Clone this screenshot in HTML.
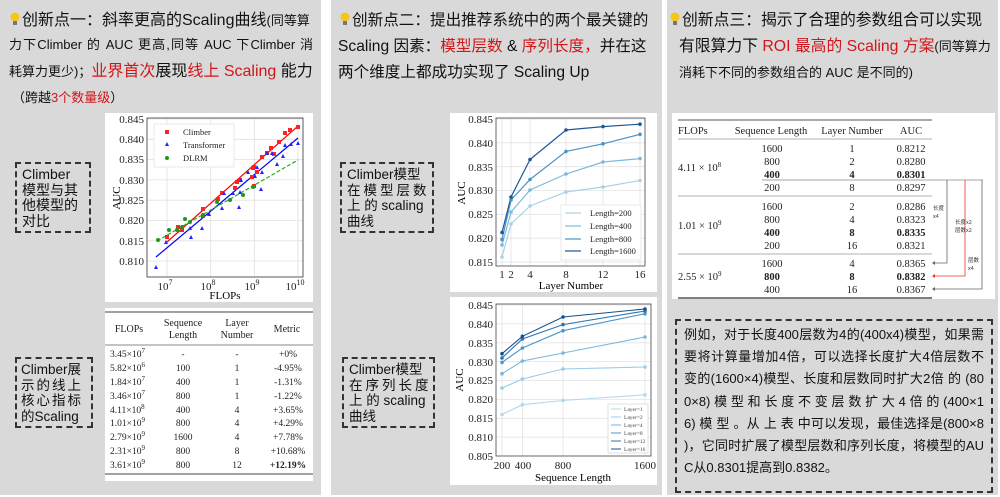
<!DOCTYPE html>
<html><head><meta charset="utf-8">
<style>
*{margin:0;padding:0;box-sizing:border-box}
body{width:1000px;height:497px;background:#fff;position:relative;overflow:hidden;font-family:"Liberation Sans","Noto Sans CJK SC",sans-serif;color:#111}
.p{position:absolute;background:#d9d9d9}
.a{position:absolute;white-space:nowrap}
.t{font-family:"Liberation Sans","Noto Sans CJK SC",sans-serif;line-height:1}
.r{color:#d0161b}
.s{font-size:13px}
.db{position:absolute;border:2px dashed #333;font-size:14px;line-height:15.6px;padding:3px 5px;font-family:"Liberation Sans","Noto Sans CJK SC",sans-serif;color:#111;white-space:nowrap}
.wb{position:absolute;background:#fff}
.bulb{display:inline-block;width:10px;height:14px;vertical-align:-1px;margin-right:2px}
.jl{text-align:justify;text-align-last:justify;height:22.2px;line-height:22.2px;white-space:nowrap}
</style></head><body>
<div class="p" style="left:0;top:0;width:321px;height:495px"></div>
<div class="p" style="left:331px;top:0;width:331px;height:495px"></div>
<div class="p" style="left:667px;top:0;width:331px;height:495px"></div>

<!-- Panel 1 title -->
<div class="a t" style="left:10px;top:12px;font-size:16px"><svg class="bulb" viewBox="0 0 10 14"><circle cx="5" cy="5" r="4.5" fill="#f5c518"/><rect x="3" y="9" width="4" height="4" fill="#777"/></svg>创新点一：斜率更高的Scaling曲线<span class="s">(同等算</span></div>
<div class="a t s" style="left:9px;top:38px;width:304px;text-align:justify;text-align-last:justify">力下Climber 的 AUC 更高,同等 AUC 下Climber 消</div>
<div class="a t" style="left:9px;top:64px;font-size:16px"><span class="s">耗算力更少)；</span><span class="r">业界首次</span>展现<span class="r">线上 Scaling</span> 能力</div>
<div class="a t s" style="left:12px;top:91px">（跨越<span class="r">3个数量级</span>）</div>

<!-- Chart 1 -->
<div class="wb" style="left:105px;top:113px;width:208px;height:189px"></div>
<svg class="a" style="left:0;top:0" width="330" height="310" font-family="Liberation Serif,serif">
<g stroke="#e0e0e0" stroke-width="0.8">
<line x1="147" x2="303" y1="119" y2="119"/><line x1="147" x2="303" y1="139.3" y2="139.3"/><line x1="147" x2="303" y1="159.6" y2="159.6"/><line x1="147" x2="303" y1="179.9" y2="179.9"/><line x1="147" x2="303" y1="200.2" y2="200.2"/><line x1="147" x2="303" y1="220.5" y2="220.5"/><line x1="147" x2="303" y1="240.8" y2="240.8"/><line x1="147" x2="303" y1="261" y2="261"/>
<line x1="167" x2="167" y1="118" y2="277"/><line x1="210.7" x2="210.7" y1="118" y2="277"/><line x1="254.4" x2="254.4" y1="118" y2="277"/><line x1="298" x2="298" y1="118" y2="277"/>
</g>
<rect x="147" y="118" width="156" height="159" fill="none" stroke="#333" stroke-width="0.8"/>
<g font-size="11" text-anchor="end" fill="#222"><text x="144" y="123">0.845</text><text x="144" y="143">0.840</text><text x="144" y="163">0.835</text><text x="144" y="184">0.830</text><text x="144" y="204">0.825</text><text x="144" y="224">0.820</text><text x="144" y="245">0.815</text><text x="144" y="265">0.810</text></g>
<g font-size="11" text-anchor="middle" fill="#222"><text x="165" y="290">10<tspan font-size="8" dy="-5">7</tspan></text><text x="208" y="290">10<tspan font-size="8" dy="-5">8</tspan></text><text x="252" y="290">10<tspan font-size="8" dy="-5">9</tspan></text><text x="295" y="290">10<tspan font-size="8" dy="-5">10</tspan></text></g>
<text x="225" y="299" font-size="11" text-anchor="middle">FLOPs</text>
<text transform="translate(120,198) rotate(-90)" font-size="11" text-anchor="middle">AUC</text>
<line x1="167" y1="242" x2="298" y2="126" stroke="#f00" stroke-width="1.2"/>
<line x1="156" y1="257" x2="298" y2="138" stroke="#00f" stroke-width="1.2"/>
<line x1="157" y1="241" x2="298" y2="160" stroke="#2a2" stroke-width="1.2" stroke-dasharray="4,2"/>
<g fill="#f22">
<rect x="165" y="235" width="4" height="4"/><rect x="176" y="225" width="4" height="4"/><rect x="180" y="228" width="4" height="4"/><rect x="201" y="207" width="4" height="4"/><rect x="201" y="214" width="4" height="4"/><rect x="216" y="197" width="4" height="4"/><rect x="220" y="191" width="4" height="4"/><rect x="233" y="186" width="4" height="4"/><rect x="235" y="180" width="4" height="4"/><rect x="238" y="178" width="4" height="4"/><rect x="250" y="175" width="4" height="4"/><rect x="251" y="166" width="4" height="4"/><rect x="252" y="165" width="4" height="4"/><rect x="255" y="170" width="4" height="4"/><rect x="252" y="184" width="4" height="4"/><rect x="260" y="155" width="4" height="4"/><rect x="265" y="151" width="4" height="4"/><rect x="269" y="146" width="4" height="4"/><rect x="272" y="152" width="4" height="4"/><rect x="277" y="140" width="4" height="4"/><rect x="283" y="131" width="4" height="4"/><rect x="288" y="128" width="4" height="4"/><rect x="296" y="125" width="4" height="4"/>
</g>
<g fill="#22f">
<path d="M156 265l2 4h-4z M166 240l2 4h-4z M190 226l2 4h-4z M191 235l2 4h-4z M202 226l2 4h-4z M209 212l2 4h-4z M222 206l2 4h-4z M224 191l2 4h-4z M233 191l2 4h-4z M239 205l2 4h-4z M240 190l2 4h-4z M241 178l2 4h-4z M248 170l2 4h-4z M255 174l2 4h-4z M257 165l2 4h-4z M261 187l2 4h-4z M262 170l2 4h-4z M267 151l2 4h-4z M272 151l2 4h-4z M277 162l2 4h-4z M283 154l2 4h-4z M285 143l2 4h-4z M291 142l2 4h-4z M298 141l2 4h-4z"/>
</g>
<g fill="#1a9a1a"><circle cx="158" cy="240" r="2"/><circle cx="169" cy="230" r="2"/><circle cx="177" cy="230" r="2"/><circle cx="182" cy="227" r="2"/><circle cx="185" cy="219" r="2"/><circle cx="190" cy="222" r="2"/><circle cx="203" cy="215" r="2"/><circle cx="217" cy="202" r="2"/><circle cx="230" cy="200" r="2"/><circle cx="243" cy="195" r="2"/><circle cx="253" cy="187" r="2"/></g>
<rect x="154" y="124" width="80" height="43" fill="#fff" stroke="#ddd" stroke-width="0.6"/>
<rect x="165" y="130" width="4" height="4" fill="#f22"/><path d="M167 142l2 4h-4z" fill="#22f"/><circle cx="167" cy="158" r="2" fill="#1a9a1a"/>
<g font-size="8.5" fill="#222"><text x="183" y="135">Climber</text><text x="183" y="148">Transformer</text><text x="183" y="161">DLRM</text></g>
</svg>
<div class="db" style="left:15px;top:162px;width:76px;height:71px">Climber<br>模型与其<br>他模型的<br>对比</div>

<!-- Table 1 -->
<div class="wb" style="left:105px;top:308px;width:208px;height:173px"></div>
<svg class="a" style="left:0;top:300px" width="330" height="190" font-family="Liberation Serif,serif" font-size="10" fill="#222">
<line x1="105" x2="313" y1="12" y2="12" stroke="#444" stroke-width="1"/>
<line x1="105" x2="313" y1="45" y2="45" stroke="#888" stroke-width="1"/>
<line x1="105" x2="313" y1="174" y2="174" stroke="#444" stroke-width="1"/>
<g text-anchor="middle">
<text x="129" y="32">FLOPs</text><text x="183" y="26">Sequence</text><text x="183" y="38">Length</text><text x="237" y="26">Layer</text><text x="237" y="38">Number</text><text x="287" y="32">Metric</text>
</g>
<g font-size="9.5">
<g text-anchor="start">
<text x="110" y="57">3.45×10<tspan font-size="7" dy="-4">7</tspan></text>
<text x="110" y="71">5.82×10<tspan font-size="7" dy="-4">6</tspan></text>
<text x="110" y="85">1.84×10<tspan font-size="7" dy="-4">7</tspan></text>
<text x="110" y="99">3.46×10<tspan font-size="7" dy="-4">7</tspan></text>
<text x="110" y="113">4.11×10<tspan font-size="7" dy="-4">8</tspan></text>
<text x="110" y="126">1.01×10<tspan font-size="7" dy="-4">9</tspan></text>
<text x="110" y="140">2.79×10<tspan font-size="7" dy="-4">9</tspan></text>
<text x="110" y="154">2.31×10<tspan font-size="7" dy="-4">9</tspan></text>
<text x="110" y="168">3.61×10<tspan font-size="7" dy="-4">9</tspan></text>
</g>
<g text-anchor="middle">
<text x="183" y="57">-</text><text x="183" y="71">100</text><text x="183" y="85">400</text><text x="183" y="99">800</text><text x="183" y="113">400</text><text x="183" y="126">800</text><text x="183" y="140">1600</text><text x="183" y="154">800</text><text x="183" y="168">800</text>
<text x="237" y="57">-</text><text x="237" y="71">1</text><text x="237" y="85">1</text><text x="237" y="99">1</text><text x="237" y="113">4</text><text x="237" y="126">4</text><text x="237" y="140">4</text><text x="237" y="154">8</text><text x="237" y="168">12</text>
<text x="288" y="57">+0%</text><text x="288" y="71">-4.95%</text><text x="288" y="85">-1.31%</text><text x="288" y="99">-1.22%</text><text x="288" y="113">+3.65%</text><text x="288" y="126">+4.29%</text><text x="288" y="140">+7.78%</text><text x="288" y="154">+10.68%</text><text x="288" y="168" font-weight="bold">+12.19%</text>
</g></g>
</svg>
<div class="db" style="left:15px;top:357px;width:78px;height:71px;font-size:13.5px;padding:3px 4px">Climber展<br><span style="letter-spacing:2px">示的线上</span><br><span style="letter-spacing:2px">核心指标</span><br>的Scaling</div>

<!-- Panel 2 title -->
<div class="a t" style="left:340px;top:12px;font-size:15.6px"><svg class="bulb" viewBox="0 0 10 14"><circle cx="5" cy="5" r="4.5" fill="#f5c518"/><rect x="3" y="9" width="4" height="4" fill="#777"/></svg>创新点二：提出推荐系统中的两个最关键的</div>
<div class="a t" style="left:338px;top:39px;font-size:15.6px">Scaling 因素：<span class="r">模型层数</span> &amp; <span class="r">序列长度，</span>并在这</div>
<div class="a t" style="left:338px;top:65px;font-size:15.6px">两个维度上都成功实现了 Scaling Up</div>

<!-- Chart A -->
<div class="wb" style="left:450px;top:113px;width:207px;height:179px"></div>
<svg class="a" style="left:0;top:0" width="665" height="300" font-family="Liberation Serif,serif">
<g stroke="#e3e3e3" stroke-width="0.8">
<line x1="496" x2="645" y1="119" y2="119"/><line x1="496" x2="645" y1="142.8" y2="142.8"/><line x1="496" x2="645" y1="166.7" y2="166.7"/><line x1="496" x2="645" y1="190.5" y2="190.5"/><line x1="496" x2="645" y1="214.3" y2="214.3"/><line x1="496" x2="645" y1="238.2" y2="238.2"/><line x1="496" x2="645" y1="262" y2="262"/>
<line x1="502" x2="502" y1="118" y2="266"/><line x1="511" x2="511" y1="118" y2="266"/><line x1="530" x2="530" y1="118" y2="266"/><line x1="566" x2="566" y1="118" y2="266"/><line x1="603" x2="603" y1="118" y2="266"/><line x1="640" x2="640" y1="118" y2="266"/>
</g>
<rect x="496" y="118" width="149" height="148" fill="none" stroke="#444" stroke-width="0.8"/>
<g font-size="11" text-anchor="end" fill="#222"><text x="493" y="123">0.845</text><text x="493" y="147">0.840</text><text x="493" y="171">0.835</text><text x="493" y="194">0.830</text><text x="493" y="218">0.825</text><text x="493" y="242">0.820</text><text x="493" y="266">0.815</text></g>
<g font-size="11" text-anchor="middle" fill="#222"><text x="502" y="278">1</text><text x="511" y="278">2</text><text x="530" y="278">4</text><text x="566" y="278">8</text><text x="603" y="278">12</text><text x="640" y="278">16</text></g>
<text x="571" y="289" font-size="11" text-anchor="middle">Layer Number</text>
<text transform="translate(465,193) rotate(-90)" font-size="11" text-anchor="middle">AUC</text>
<g fill="none" stroke-width="1.2">
<polyline stroke="#a9d2ea" points="502,257 511,224 530,206 566,192 603,187 640,180.5"/>
<polyline stroke="#7db9de" points="502,245 511,212 530,190 566,174 603,162 640,158.6"/>
<polyline stroke="#4b93c7" points="502,239.6 511,200 530,179.5 566,151.4 603,143.8 640,134.3"/>
<polyline stroke="#1e5796" points="502,232.5 511,197 530,159.5 566,130 603,126.6 640,124.2"/>
</g>
<g fill="#a9d2ea"><circle cx="502" cy="257" r="1.8"/><circle cx="511" cy="224" r="1.8"/><circle cx="530" cy="206" r="1.8"/><circle cx="566" cy="192" r="1.8"/><circle cx="603" cy="187" r="1.8"/><circle cx="640" cy="180.5" r="1.8"/></g>
<g fill="#7db9de"><circle cx="502" cy="245" r="1.8"/><circle cx="511" cy="212" r="1.8"/><circle cx="530" cy="190" r="1.8"/><circle cx="566" cy="174" r="1.8"/><circle cx="603" cy="162" r="1.8"/><circle cx="640" cy="158.6" r="1.8"/></g>
<g fill="#4b93c7"><circle cx="502" cy="239.6" r="1.8"/><circle cx="511" cy="200" r="1.8"/><circle cx="530" cy="179.5" r="1.8"/><circle cx="566" cy="151.4" r="1.8"/><circle cx="603" cy="143.8" r="1.8"/><circle cx="640" cy="134.3" r="1.8"/></g>
<g fill="#1e5796"><circle cx="502" cy="232.5" r="1.8"/><circle cx="511" cy="197" r="1.8"/><circle cx="530" cy="159.5" r="1.8"/><circle cx="566" cy="130" r="1.8"/><circle cx="603" cy="126.6" r="1.8"/><circle cx="640" cy="124.2" r="1.8"/></g>
<rect x="561" y="205" width="80" height="55" fill="#fff" stroke="#ddd" stroke-width="0.6"/>
<g stroke-width="1.2"><line x1="565" x2="581" y1="213" y2="213" stroke="#a9d2ea"/><line x1="565" x2="581" y1="226" y2="226" stroke="#7db9de"/><line x1="565" x2="581" y1="239" y2="239" stroke="#4b93c7"/><line x1="565" x2="581" y1="251" y2="251" stroke="#1e5796"/></g>
<g font-size="8.5" fill="#222"><text x="590" y="216">Length=200</text><text x="590" y="229">Length=400</text><text x="590" y="242">Length=800</text><text x="590" y="254">Length=1600</text></g>
</svg>
<div class="db" style="left:340px;top:162px;width:94px;height:71px;font-size:13.5px">Climber模型<br><span style="letter-spacing:3px">在模型层数</span><br>上 的 scaling<br>曲线</div>

<!-- Chart B -->
<div class="wb" style="left:450px;top:297px;width:207px;height:188px"></div>
<svg class="a" style="left:0;top:0" width="665" height="497" font-family="Liberation Serif,serif">
<g stroke="#e3e3e3" stroke-width="0.8">
<line x1="496" x2="651" y1="305" y2="305"/><line x1="496" x2="651" y1="323.9" y2="323.9"/><line x1="496" x2="651" y1="342.8" y2="342.8"/><line x1="496" x2="651" y1="361.6" y2="361.6"/><line x1="496" x2="651" y1="380.5" y2="380.5"/><line x1="496" x2="651" y1="399.4" y2="399.4"/><line x1="496" x2="651" y1="418.3" y2="418.3"/><line x1="496" x2="651" y1="437.1" y2="437.1"/>
<line x1="502" x2="502" y1="305" y2="456"/><line x1="522.4" x2="522.4" y1="305" y2="456"/><line x1="563" x2="563" y1="305" y2="456"/><line x1="645" x2="645" y1="305" y2="456"/>
</g>
<rect x="496" y="304" width="155" height="152" fill="none" stroke="#444" stroke-width="0.8"/>
<g font-size="11" text-anchor="end" fill="#222"><text x="493" y="309">0.845</text><text x="493" y="328">0.840</text><text x="493" y="347">0.835</text><text x="493" y="366">0.830</text><text x="493" y="384">0.825</text><text x="493" y="403">0.820</text><text x="493" y="422">0.815</text><text x="493" y="441">0.810</text><text x="493" y="460">0.805</text></g>
<g font-size="11" text-anchor="middle" fill="#222"><text x="502" y="469">200</text><text x="523" y="469">400</text><text x="563" y="469">800</text><text x="645" y="469">1600</text></g>
<text x="573" y="481" font-size="11" text-anchor="middle">Sequence Length</text>
<text transform="translate(463,380) rotate(-90)" font-size="11" text-anchor="middle">AUC</text>
<g fill="none" stroke-width="1.1">
<polyline stroke="#b3d8ee" points="502,414.5 522.4,404.7 563,400.5 645,394.8"/>
<polyline stroke="#9bcbe8" points="502,388 522.4,379 563,369 645,367"/>
<polyline stroke="#7ab7de" points="502,373.7 522.4,361 563,353 645,337"/>
<polyline stroke="#4d96cc" points="502,362.4 522.4,348 563,330.7 645,313.7"/>
<polyline stroke="#2f74b3" points="502,358 522.4,339 563,324.6 645,311"/>
<polyline stroke="#16508f" points="502,353.7 522.4,336.3 563,317 645,309"/>
</g>
<g fill="#b3d8ee"><circle cx="502" cy="414.5" r="1.8"/><circle cx="522.4" cy="404.7" r="1.8"/><circle cx="563" cy="400.5" r="1.8"/><circle cx="645" cy="394.8" r="1.8"/></g>
<g fill="#9bcbe8"><circle cx="502" cy="388" r="1.8"/><circle cx="522.4" cy="379" r="1.8"/><circle cx="563" cy="369" r="1.8"/><circle cx="645" cy="367" r="1.8"/></g>
<g fill="#7ab7de"><circle cx="502" cy="373.7" r="1.8"/><circle cx="522.4" cy="361" r="1.8"/><circle cx="563" cy="353" r="1.8"/><circle cx="645" cy="337" r="1.8"/></g>
<g fill="#4d96cc"><circle cx="502" cy="362.4" r="1.8"/><circle cx="522.4" cy="348" r="1.8"/><circle cx="563" cy="330.7" r="1.8"/><circle cx="645" cy="313.7" r="1.8"/></g>
<g fill="#2f74b3"><circle cx="502" cy="358" r="1.8"/><circle cx="522.4" cy="339" r="1.8"/><circle cx="563" cy="324.6" r="1.8"/><circle cx="645" cy="311" r="1.8"/></g>
<g fill="#16508f"><circle cx="502" cy="353.7" r="1.8"/><circle cx="522.4" cy="336.3" r="1.8"/><circle cx="563" cy="317" r="1.8"/><circle cx="645" cy="309" r="1.8"/></g>
<rect x="608" y="404" width="40" height="49" fill="#fff" stroke="#ccc" stroke-width="0.6"/>
<g stroke-width="1"><line x1="611" x2="621" y1="409" y2="409" stroke="#b3d8ee"/><line x1="611" x2="621" y1="417" y2="417" stroke="#9bcbe8"/><line x1="611" x2="621" y1="425" y2="425" stroke="#7ab7de"/><line x1="611" x2="621" y1="433" y2="433" stroke="#4d96cc"/><line x1="611" x2="621" y1="441" y2="441" stroke="#2f74b3"/><line x1="611" x2="621" y1="449" y2="449" stroke="#16508f"/></g>
<g font-size="5.5" fill="#444"><text x="624" y="411">Layer=1</text><text x="624" y="419">Layer=2</text><text x="624" y="427">Layer=4</text><text x="624" y="435">Layer=8</text><text x="624" y="443">Layer=12</text><text x="624" y="451">Layer=16</text></g>
</svg>
<div class="db" style="left:342px;top:357px;width:93px;height:71px;font-size:13.5px">Climber模型<br><span style="letter-spacing:3px">在序列长度</span><br>上 的 scaling<br>曲线</div>

<!-- Panel 3 title -->
<div class="a t" style="left:670px;top:12px;font-size:15.8px"><svg class="bulb" viewBox="0 0 10 14"><circle cx="5" cy="5" r="4.5" fill="#f5c518"/><rect x="3" y="9" width="4" height="4" fill="#777"/></svg>创新点三：揭示了合理的参数组合可以实现</div>
<div class="a t" style="left:679px;top:39px;font-size:15.8px">有限算力下 <span class="r">ROI 最高的 Scaling 方案</span><span class="s">(同等算力</span></div>
<div class="a t s" style="left:679px;top:66px">消耗下不同的参数组合的 AUC 是不同的)</div>

<!-- Table 3 -->
<div class="wb" style="left:672px;top:113px;width:323px;height:186px"></div>
<svg class="a" style="left:0;top:0" width="1000" height="310" font-family="Liberation Serif,serif" font-size="10.5" fill="#222">
<line x1="678" x2="932" y1="120" y2="120" stroke="#555" stroke-width="1"/>
<line x1="678" x2="932" y1="139" y2="139" stroke="#999" stroke-width="0.8"/>
<line x1="762" x2="983" y1="180" y2="180" stroke="#888" stroke-width="0.7"/>
<line x1="678" x2="932" y1="196" y2="196" stroke="#999" stroke-width="0.8"/>
<line x1="678" x2="932" y1="254" y2="254" stroke="#999" stroke-width="0.8"/>
<line x1="678" x2="932" y1="298" y2="298" stroke="#555" stroke-width="1.5"/>
<text x="678" y="134">FLOPs</text><g text-anchor="middle"><text x="771" y="134">Sequence Length</text><text x="852" y="134">Layer Number</text><text x="911" y="134">AUC</text></g>
<text x="678" y="171">4.11 × 10<tspan font-size="7" dy="-4">8</tspan></text>
<text x="678" y="229">1.01 × 10<tspan font-size="7" dy="-4">9</tspan></text>
<text x="678" y="280">2.55 × 10<tspan font-size="7" dy="-4">9</tspan></text>
<g text-anchor="middle">
<text x="772" y="152">1600</text><text x="772" y="165">800</text><text x="772" y="178" font-weight="bold">400</text><text x="772" y="191">200</text>
<text x="772" y="210">1600</text><text x="772" y="223">800</text><text x="772" y="236" font-weight="bold">400</text><text x="772" y="249">200</text>
<text x="772" y="267">1600</text><text x="772" y="280" font-weight="bold">800</text><text x="772" y="293">400</text>
<text x="852" y="152">1</text><text x="852" y="165">2</text><text x="852" y="178" font-weight="bold">4</text><text x="852" y="191">8</text>
<text x="852" y="210">2</text><text x="852" y="223">4</text><text x="852" y="236" font-weight="bold">8</text><text x="852" y="249">16</text>
<text x="852" y="267">4</text><text x="852" y="280" font-weight="bold">8</text><text x="852" y="293">16</text>
<text x="911" y="152">0.8212</text><text x="911" y="165">0.8280</text><text x="911" y="178" font-weight="bold">0.8301</text><text x="911" y="191">0.8297</text>
<text x="911" y="210">0.8286</text><text x="911" y="223">0.8323</text><text x="911" y="236" font-weight="bold">0.8335</text><text x="911" y="249">0.8321</text>
<text x="911" y="267">0.8365</text><text x="911" y="280" font-weight="bold">0.8382</text><text x="911" y="293">0.8367</text>
</g>
<g fill="none" stroke-width="0.8">
<polyline stroke="#666" points="947,180 947,263 934,263"/>
<polyline stroke="#e33" points="965,180 965,276 934,276"/>
<polyline stroke="#666" points="982,180 982,289 934,289"/>
</g>
<path d="M932 263l3-2v4z M932 289l3-2v4z" fill="#666"/><path d="M932 276l3-2v4z" fill="#e33"/>
<g font-family="Noto Sans CJK SC,sans-serif" font-size="5.5" fill="#333"><text x="933" y="210">长度</text><text x="933" y="218">x4</text><text x="955" y="224">长度x2</text><text x="955" y="232">层数x2</text><text x="968" y="262">层数</text><text x="968" y="270">x4</text></g>
</svg>

<!-- Right text box -->
<div class="db" style="left:675px;top:319px;width:318px;height:174px;padding:3px 7px 0 7px;font-size:13px">
<div class="jl">例如，对于长度400层数为4的(400x4)模型，如果需</div>
<div class="jl">要将计算量增加4倍，可以选择长度扩大4倍层数不</div>
<div class="jl">变的(1600×4)模型、长度和层数同时扩大2倍 的 (80</div>
<div class="jl">0×8) 模 型 和 长 度 不 变 层 数 扩 大 4 倍 的 (400×1</div>
<div class="jl">6) 模 型 。从 上 表 中可以发现，最佳选择是(800×8</div>
<div class="jl">)，它同时扩展了模型层数和序列长度，将模型的AU</div>
<div style="height:22.2px;line-height:22.2px">C从0.8301提高到0.8382。</div>
</div>
</body></html>
